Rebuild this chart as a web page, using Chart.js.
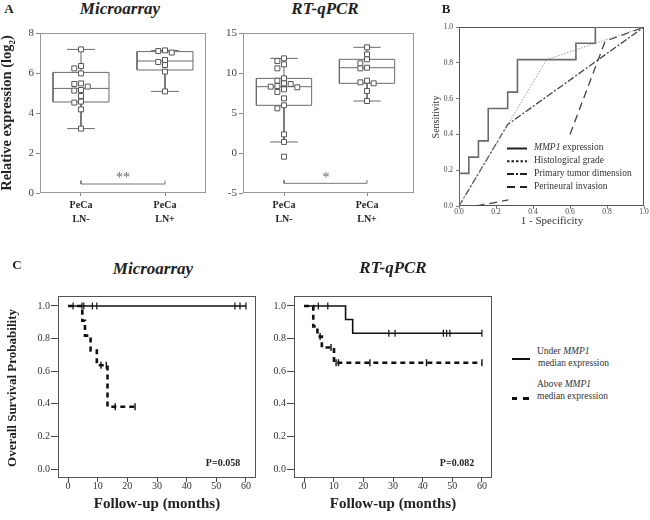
<!DOCTYPE html>
<html>
<head>
<meta charset="utf-8">
<script src="https://cdn.jsdelivr.net/npm/chart.js@4.4.0/dist/chart.umd.min.js"></script>
<style>
  body { margin: 0; background: #fff; }
  #fig { position: relative; width: 650px; height: 520px; overflow: hidden; font-family: "Liberation Serif", "Times New Roman", serif; color: #222; }
  canvas { position: absolute; }
  .t { position: absolute; white-space: nowrap; line-height: 1; }
  .ctr { transform: translate(-50%, -50%); }
  .rot { transform: translate(-50%, -50%) rotate(-90deg); }
  .lft { transform: translateY(-50%); }
  .b { font-weight: bold; }
  .bi { font-weight: bold; font-style: italic; }
</style>
</head>
<body>
<div id="fig">
  <canvas id="boxMa" width="215" height="220" style="left:0;top:20px;width:215px;height:220px"></canvas>
  <canvas id="boxRt" width="215" height="220" style="left:215px;top:20px;width:215px;height:220px"></canvas>
  <canvas id="roc" width="220" height="215" style="left:430px;top:10px;width:220px;height:215px"></canvas>
  <canvas id="kmMa" width="262" height="215" style="left:0;top:280px;width:262px;height:215px"></canvas>
  <canvas id="kmRt" width="262" height="215" style="left:236px;top:280px;width:262px;height:215px"></canvas>

  <!-- panel A -->
  <div class="t ctr b" style="left:9px;top:8px;font-size:13px">A</div>
  <div class="t ctr bi" style="left:120px;top:8px;font-size:17px">Microarray</div>
  <div class="t ctr bi" style="left:325px;top:8px;font-size:17px">RT-qPCR</div>
  <div class="t rot b" style="left:8px;top:113px;font-size:14.5px">Relative expression (log<sub style="font-size:9px">2</sub>)</div>
  <div class="t ctr" style="left:123px;top:178px;font-size:14px;color:#666">**</div>
  <div class="t ctr" style="left:326px;top:178px;font-size:14px;color:#666">*</div>

  <!-- panel B -->
  <div class="t ctr b" style="left:446px;top:8px;font-size:13px">B</div>
  <div class="t rot" style="left:436px;top:117px;font-size:10px;color:#333">Sensitivity</div>
  <div class="t ctr" style="left:552px;top:220px;font-size:11px;color:#333">1 - Specificity</div>
  <div class="t lft" style="left:534px;top:148px;font-size:9.5px;color:#333"><i>MMP1</i> expression</div>
  <div class="t lft" style="left:534px;top:161px;font-size:9.5px;color:#333">Histological grade</div>
  <div class="t lft" style="left:534px;top:174px;font-size:9.5px;color:#333">Primary tumor dimension</div>
  <div class="t lft" style="left:534px;top:187px;font-size:9.5px;color:#333">Perineural invasion</div>

  <!-- panel C -->
  <div class="t ctr b" style="left:17px;top:264px;font-size:13px">C</div>
  <div class="t ctr bi" style="left:153px;top:268px;font-size:17px">Microarray</div>
  <div class="t ctr bi" style="left:393px;top:267px;font-size:17px">RT-qPCR</div>
  <div class="t rot b" style="left:11px;top:388px;font-size:13px">Overall Survival Probability</div>
  <div class="t ctr b" style="left:157px;top:503px;font-size:15px">Follow-up (months)</div>
  <div class="t ctr b" style="left:393px;top:503px;font-size:15px">Follow-up (months)</div>
  <div class="t ctr b" style="left:223px;top:463px;font-size:10px">P=0.058</div>
  <div class="t ctr b" style="left:457px;top:463px;font-size:10px">P=0.082</div>

  <div style="position:absolute;left:512px;top:358px;width:18px;height:2px;background:#111"></div>
  <div style="position:absolute;left:512px;top:397px;width:5px;height:3px;background:#111"></div>
  <div style="position:absolute;left:523px;top:397px;width:6px;height:3px;background:#111"></div>
  <div class="t lft" style="left:537px;top:352px;font-size:9.5px;color:#333">Under <i>MMP1</i></div>
  <div class="t lft" style="left:538px;top:364px;font-size:9.5px;color:#333">median expression</div>
  <div class="t lft" style="left:537px;top:385px;font-size:9.5px;color:#333">Above <i>MMP1</i></div>
  <div class="t lft" style="left:537px;top:397px;font-size:9.5px;color:#333">median expression</div>
</div>

<script>
  // Panel A: expression per group (PeCa LN- / LN+)
  const groups = [['PeCa', 'LN-'], ['PeCa', 'LN+']];

  const maNeg = [7.18, 6.35, 6.23, 5.98, 5.48, 5.45, 5.32, 5.15, 5.12, 4.85, 4.57, 4.52, 4.18, 3.22];
  const maPos = [7.13, 7.1, 7.02, 6.65, 6.55, 6.4, 6.07, 5.08];
  const maLow = [3.22, 5.08];
  const maQ1 = [4.55, 6.15];
  const maMed = [5.23, 6.6];
  const maQ3 = [6.03, 7.07];
  const maHigh = [7.18, 7.13];
  const maSig = 0.45;

  const rtNeg = [11.83, 11.5, 11.08, 10.58, 9.33, 9.04, 8.71, 8.63, 8.38, 8.29, 8.21, 7.96, 7.63, 6.83, 5.96, 5.58, 2.33, 1.38, -0.46];
  const rtPos = [13.21, 12.33, 11.71, 11.21, 10.66, 10.58, 9.04, 8.83, 8.71, 7.75, 6.5];
  const rtLow = [1.38, 6.5];
  const rtQ1 = [5.96, 8.71];
  const rtMed = [8.29, 10.66];
  const rtQ3 = [9.33, 11.71];
  const rtHigh = [11.83, 13.21];
  const rtSig = -3.79;

  // Panel B: ROC curves (1 - specificity, sensitivity)
  const rocMmp1Fpr = [0, 0, 0.053, 0.105, 0.158, 0.263, 0.316, 0.632, 0.737, 1];
  const rocMmp1Tpr = [0, 0.182, 0.273, 0.364, 0.545, 0.636, 0.818, 0.909, 1, 1];
  const rocGradeFpr = [0, 0.474, 1];
  const rocGradeTpr = [0, 0.818, 1];
  const rocSizeFpr = [0, 0.263, 1];
  const rocSizeTpr = [0, 0.455, 1];
  const rocPniFpr = [0.095, 0.267, null, 0.6, 0.79, 1];
  const rocPniTpr = [0, 0.034, null, 0.4, 0.92, 1];
  const rocTicks = [0, 0.2, 0.4, 0.6, 0.8, 1];

  // Panel C: Kaplan-Meier steps (months, survival) and censored times
  const kmTimeTicks = [0, 10, 20, 30, 40, 50, 60];
  const kmProbTicks = [0, 0.2, 0.4, 0.6, 0.8, 1];

  const maUnderT = [0, 60];
  const maUnderS = [1, 1];
  const maUnderCens = [1.7, 4.7, 5.3, 8.2, 9.7, 56.3, 58, 60];
  const maAboveT = [0, 4.8, 5.7, 7.6, 9.7, 13.3, 22.6];
  const maAboveS = [1, 0.909, 0.818, 0.727, 0.636, 0.382, 0.382];
  const maAboveCens = [11.1, 12.9, 15.9, 22.6];

  const rtUnderT = [0, 14, 16.4, 60];
  const rtUnderS = [1, 0.917, 0.833, 0.833];
  const rtUnderCens = [4.8, 8, 28.6, 30.7, 47, 48.1, 49.2, 60];
  const rtAboveT = [0, 3.1, 4.5, 6, 10.1, 60];
  const rtAboveS = [1, 0.875, 0.8125, 0.745, 0.652, 0.652];
  const rtAboveCens = [5.4, 9.1, 10.8, 11.6, 22.2, 41.3, 60];

  Chart.defaults.font.family = '"Liberation Serif", "Times New Roman", serif';
  Chart.defaults.animation = false;
  Chart.defaults.events = [];
  Chart.defaults.plugins.legend.display = false;
  Chart.defaults.plugins.tooltip.enabled = false;

  // box frame around the plot area
  const frameBorder = {
    id: 'frameBorder',
    defaults: { color: '#555', width: 1 },
    beforeDatasetsDraw(chart, args, opts) {
      const a = chart.chartArea, ctx = chart.ctx;
      ctx.save();
      ctx.strokeStyle = opts.color;
      ctx.lineWidth = opts.width;
      ctx.strokeRect(a.left + 0.5, a.top + 0.5, a.right - a.left - 1, a.bottom - a.top - 1);
      ctx.restore();
    }
  };

  // line samples for the ROC legend (texts are html)
  const lineSamples = {
    id: 'lineSamples',
    afterDraw(chart, args, opts) {
      if (!opts || !opts.show) return;
      const ctx = chart.ctx;
      ctx.save();
      chart.data.datasets.forEach((ds, i) => {
        const y = opts.y + i * opts.dy;
        ctx.beginPath();
        ctx.strokeStyle = opts.color;
        ctx.lineWidth = opts.lineWidth;
        ctx.setLineDash(ds.sampleDash || ds.borderDash || []);
        ctx.moveTo(opts.x, y);
        ctx.lineTo(opts.x + opts.len, y);
        ctx.stroke();
      });
      ctx.restore();
    }
  };
  Chart.register(frameBorder, lineSamples);

  function fixedTicks(values) {
    return axis => { axis.ticks = values.map(v => ({ value: v })); };
  }

  // spread points sideways when they would overlap
  function swarm(values, group, minGap) {
    const placed = [];
    const slots = [0, -1, 1, -2, 2, -3, 3];
    return values.map(v => {
      let s = slots.find(k => !placed.some(p => p.s === k && Math.abs(p.v - v) < minGap));
      if (s === undefined) s = 0;
      placed.push({ v: v, s: s });
      return { x: group + s * 0.08, y: v };
    });
  }

  function boxLines(lo, q1, med, q3, hi) {
    const pts = [];
    const w = 0.333, cw = 0.165;
    lo.forEach((_, i) => {
      const c = i + 1;
      pts.push({ x: c - w, y: q1[i] }, { x: c + w, y: q1[i] }, { x: c + w, y: q3[i] }, { x: c - w, y: q3[i] }, { x: c - w, y: q1[i] }, { x: c, y: null });
      pts.push({ x: c - w, y: med[i] }, { x: c + w, y: med[i] }, { x: c, y: null });
      pts.push({ x: c, y: q3[i] }, { x: c, y: hi[i] }, { x: c, y: null });
      pts.push({ x: c, y: q1[i] }, { x: c, y: lo[i] }, { x: c, y: null });
      pts.push({ x: c - cw, y: hi[i] }, { x: c + cw, y: hi[i] }, { x: c, y: null });
      pts.push({ x: c - cw, y: lo[i] }, { x: c + cw, y: lo[i] }, { x: c, y: null });
    });
    return pts;
  }

  function boxChart(id, neg, pos, lo, q1, med, q3, hi, sig, cfg) {
    const pointStyle = {
      type: 'scatter', pointStyle: 'rect', pointRadius: 3.5,
      pointBackgroundColor: '#fff', pointBorderColor: '#555', pointBorderWidth: 1
    };
    new Chart(document.getElementById(id), {
      type: 'scatter',
      data: {
        datasets: [
          Object.assign({ data: swarm(neg, 1, cfg.gap) }, pointStyle),
          Object.assign({ data: swarm(pos, 2, cfg.gap) }, pointStyle),
          {
            data: boxLines(lo, q1, med, q3, hi), showLine: true, spanGaps: false,
            borderColor: '#6a6a6a', borderWidth: 1, pointRadius: 0
          },
          {
            data: [{ x: 1, y: sig + cfg.tick }, { x: 1, y: sig }, { x: 2, y: sig }, { x: 2, y: sig + cfg.tick }],
            showLine: true, borderColor: '#777', borderWidth: 1, pointRadius: 0
          }
        ]
      },
      options: {
        responsive: false,
        layout: { padding: { top: 13, right: cfg.padRight, left: 0, bottom: 0 } },
        plugins: { frameBorder: { color: '#999' } },
        scales: {
          x: {
            type: 'linear', min: cfg.xMin, max: cfg.xMax,
            afterBuildTicks: fixedTicks([1, 2]),
            afterFit: s => { s.height = 47; },
            border: { display: false },
            grid: { drawOnChartArea: false, tickLength: 3, color: '#888' },
            ticks: {
              padding: 2, color: '#222', font: { size: 10, weight: 'bold', lineHeight: 1.4 },
              callback: v => groups[v - 1]
            }
          },
          y: {
            min: cfg.yMin, max: cfg.yMax,
            afterBuildTicks: fixedTicks(cfg.yTicks),
            afterFit: s => { s.width = cfg.yWidth; },
            border: { display: false },
            grid: { drawOnChartArea: false, tickLength: 4, color: '#888' },
            ticks: { padding: 2, color: '#444', font: { size: 11 } }
          }
        }
      }
    });
  }

  boxChart('boxMa', maNeg, maPos, maLow, maQ1, maMed, maQ3, maHigh, maSig,
    { gap: 0.25, tick: 0.17, xMin: 0.512, xMax: 2.488, yMin: 0, yMax: 8, yTicks: [0, 2, 4, 6, 8], yWidth: 40, padRight: 9 });
  boxChart('boxRt', rtNeg, rtPos, rtLow, rtQ1, rtMed, rtQ3, rtHigh, rtSig,
    { gap: 0.6, tick: 0.41, xMin: 0.506, xMax: 2.566, yMin: -5, yMax: 15, yTicks: [-5, 0, 5, 10, 15], yWidth: 28, padRight: 16 });

  // ROC
  function xy(xs, ys) {
    return xs.map((x, i) => ({ x: x, y: ys[i] }));
  }

  new Chart(document.getElementById('roc'), {
    type: 'scatter',
    data: {
      datasets: [
        { label: 'MMP1 expression', data: xy(rocMmp1Fpr, rocMmp1Tpr), showLine: true, stepped: 'before',
          borderColor: '#6a6a6a', borderWidth: 1.6, pointRadius: 0 },
        { label: 'Histological grade', data: xy(rocGradeFpr, rocGradeTpr), showLine: true,
          borderColor: '#999', borderWidth: 1, borderDash: [1.5, 1.5], sampleDash: [2.5, 2], pointRadius: 0 },
        { label: 'Primary tumor dimension', data: xy(rocSizeFpr, rocSizeTpr), showLine: true,
          borderColor: '#444', borderWidth: 1.3, borderDash: [7, 2, 2, 2], pointRadius: 0 },
        { label: 'Perineural invasion', data: xy(rocPniFpr, rocPniTpr), showLine: true, spanGaps: false,
          borderColor: '#444', borderWidth: 1.3, borderDash: [8, 5], pointRadius: 0 }
      ]
    },
    options: {
      responsive: false,
      layout: { padding: { top: 17, right: 6, left: 0, bottom: 0 } },
      plugins: {
        frameBorder: { color: '#555' },
        lineSamples: { show: true, x: 77, y: 138.5, dy: 12.8, len: 20, color: '#222', lineWidth: 2 }
      },
      scales: {
        x: {
          min: 0, max: 1,
          afterBuildTicks: fixedTicks(rocTicks),
          afterFit: s => { s.height = 19; },
          border: { display: false },
          grid: { drawOnChartArea: false, tickLength: 3, color: '#777' },
          ticks: { padding: -1, color: '#444', font: { size: 7.5 }, callback: v => v.toFixed(1) }
        },
        y: {
          min: 0, max: 1,
          afterBuildTicks: fixedTicks(rocTicks),
          afterFit: s => { s.width = 29; },
          border: { display: false },
          grid: { drawOnChartArea: false, tickLength: 3, color: '#777' },
          ticks: { padding: 3, color: '#444', font: { size: 7.5 }, callback: v => v.toFixed(1) }
        }
      }
    }
  });

  // Kaplan-Meier
  function survAt(T, S, t) {
    let s = S[0];
    T.forEach((ti, i) => { if (ti <= t) s = S[i]; });
    return s;
  }

  function kmChart(id, underT, underS, underCens, aboveT, aboveS, aboveCens) {
    new Chart(document.getElementById(id), {
      type: 'scatter',
      data: {
        datasets: [
          { data: underCens.map(t => ({ x: t, y: survAt(underT, underS, t) })), pointStyle: 'line', rotation: 90,
            pointRadius: 3.5, pointBorderColor: '#111', pointBorderWidth: 1.2 },
          { data: aboveCens.map(t => ({ x: t, y: survAt(aboveT, aboveS, t) })), pointStyle: 'line', rotation: 90,
            pointRadius: 3.5, pointBorderColor: '#111', pointBorderWidth: 1.4 },
          { data: xy(underT, underS), showLine: true, stepped: 'before',
            borderColor: '#111', borderWidth: 1.6, pointRadius: 0 },
          { data: xy(aboveT, aboveS), showLine: true, stepped: 'before',
            borderColor: '#111', borderWidth: 2.6, borderDash: [5, 4], pointRadius: 0 }
        ]
      },
      options: {
        responsive: false,
        layout: { padding: { top: 16, right: 6, left: 0, bottom: 0 } },
        plugins: { frameBorder: { color: '#555' } },
        scales: {
          x: {
            min: -3.4, max: 63.4,
            afterBuildTicks: fixedTicks(kmTimeTicks),
            afterFit: s => { s.height = 17; },
            border: { display: false },
            grid: { drawOnChartArea: false, tickLength: 4, color: '#444' },
            ticks: { padding: -2, color: '#333', font: { size: 10 } }
          },
          y: {
            min: -0.055, max: 1.061,
            afterBuildTicks: fixedTicks(kmProbTicks),
            afterFit: s => { s.width = 58; },
            border: { display: false },
            grid: { drawOnChartArea: false, tickLength: 7, color: '#444' },
            ticks: { padding: 1, color: '#333', font: { size: 10 }, callback: v => v.toFixed(1) }
          }
        }
      }
    });
  }

  kmChart('kmMa', maUnderT, maUnderS, maUnderCens, maAboveT, maAboveS, maAboveCens);
  kmChart('kmRt', rtUnderT, rtUnderS, rtUnderCens, rtAboveT, rtAboveS, rtAboveCens);
</script>
</body>
</html>
